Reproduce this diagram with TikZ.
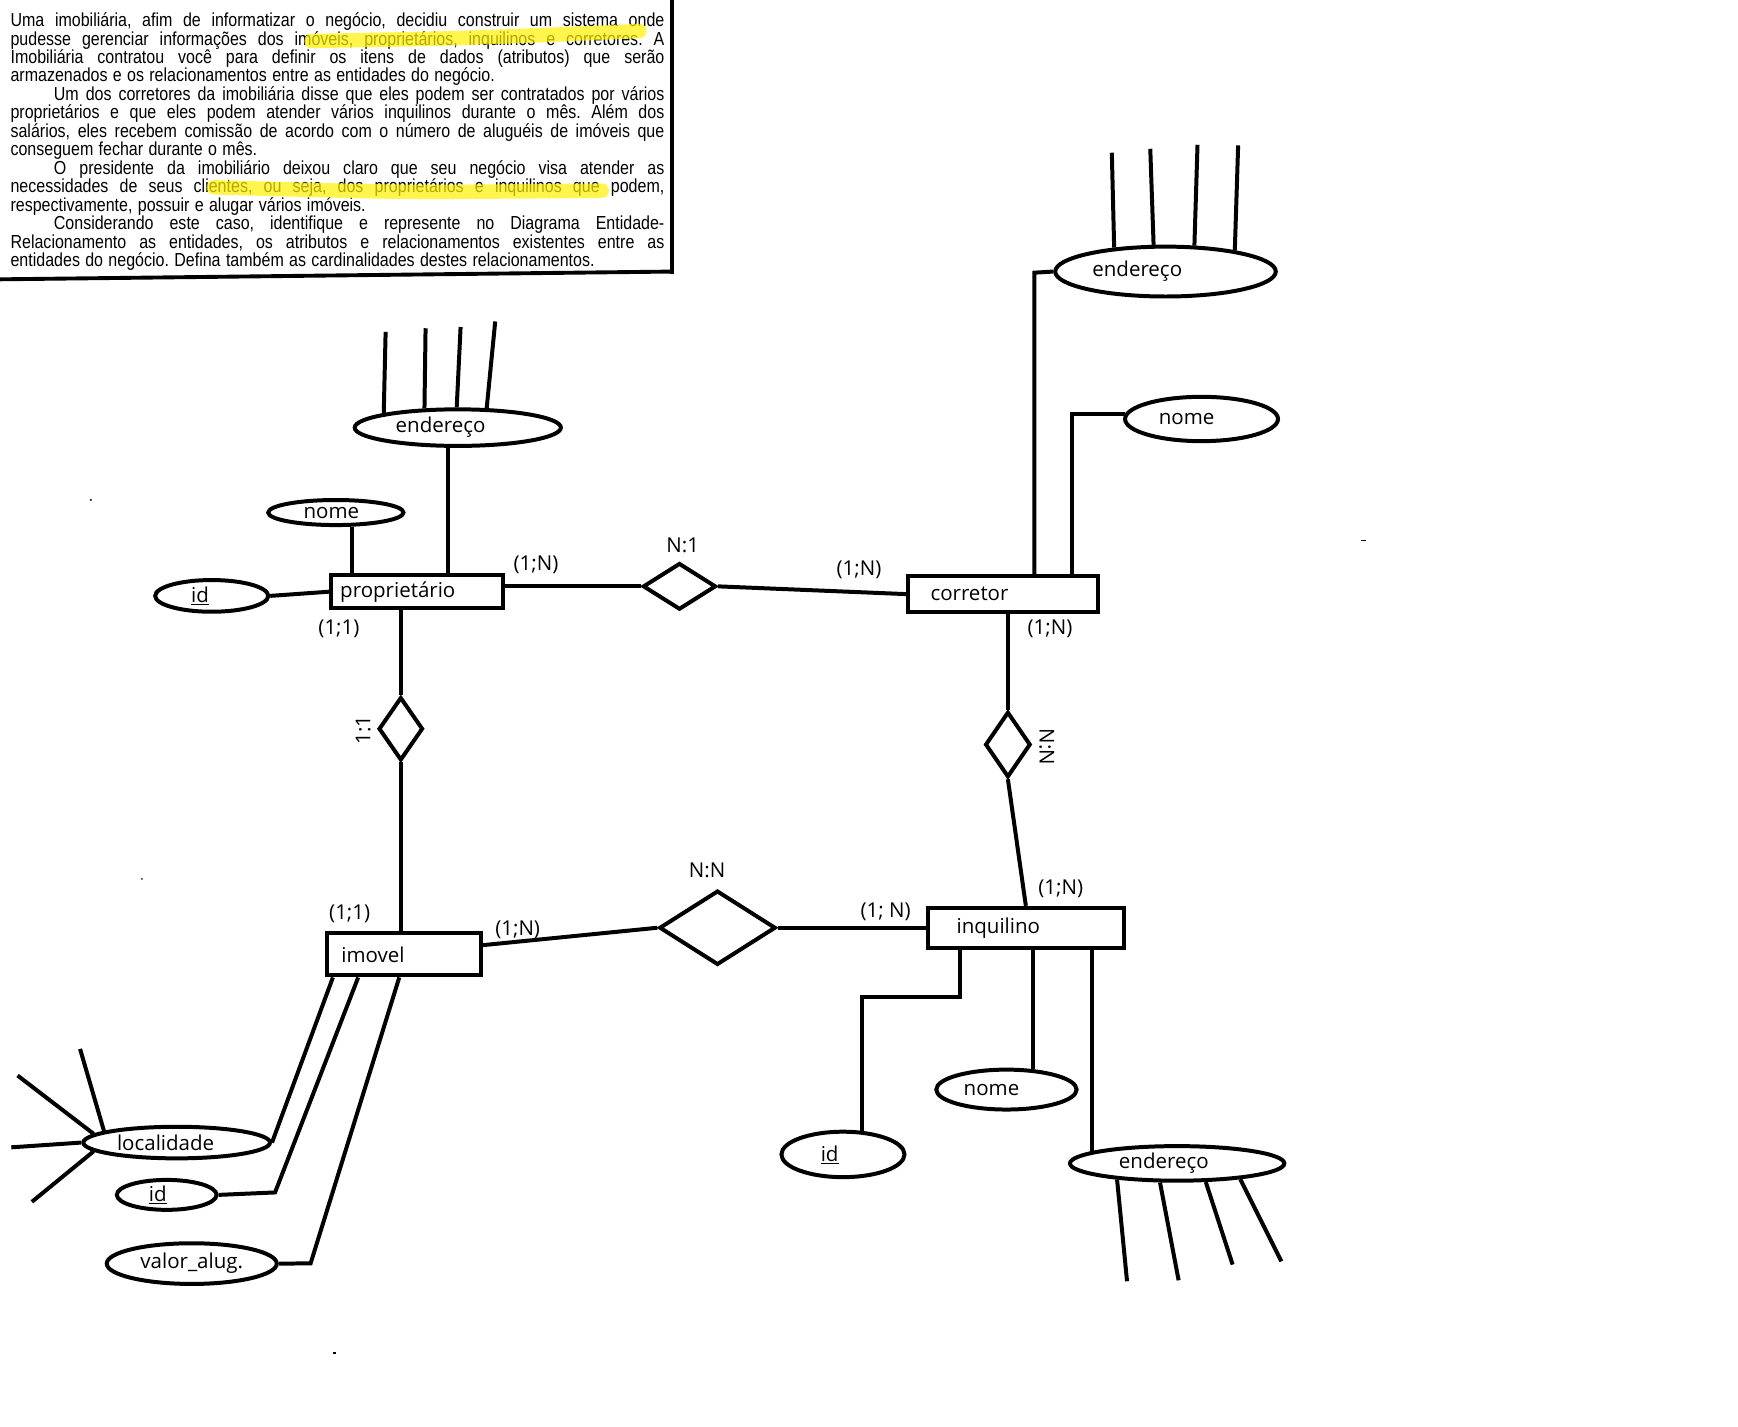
\documentclass[tikz,border=0pt]{standalone}
\usepackage{fontspec}
\setmainfont{Open Sans}
\newfontfamily\enunfont{Liberation Sans}
\usepackage{tikz}
\usetikzlibrary{positioning,calc,shapes.geometric}
\setlength{\parindent}{0pt}
\def\palavras#1 #2\fim{#1\ifx\relax#2\relax\else\hfill\palavras#2\fim\fi}
\newcommand{\linha}[1]{\leavevmode\hbox to 694pt{\palavras#1 \fim}}
\newcommand{\fonteenun}{\enunfont\fontsize{17}{16.66}\selectfont\frenchspacing}

\begin{document}
\begin{tikzpicture}[x=1pt,y=-1pt,line width=3.6pt,font=\fontsize{18.5}{22}\selectfont]
            \tikzstyle{entidade}=[draw, rectangle, inner ysep=0pt, align=left]
            \tikzstyle{atributo}=[draw, ellipse, inner sep=0pt]
            \tikzstyle{relacao}=[draw, diamond, inner sep=0pt]
            \tikzstyle{marca}=[yellow, opacity=0.7, line width=13pt, line cap=round]
            \fill[white] (0,0) rectangle (1568,1287);
            \useasboundingbox (0,0) rectangle (1568,1287);
            % enunciado
            \node[anchor=base west, inner sep=0pt, text width=694pt, font=\fonteenun,
            xscale=0.85, transform shape] (enunciado) at (8,24) {%
\linha{Uma imobiliária, afim de informatizar o negócio, decidiu construir um sistema onde}\\
\linha{pudesse gerenciar informações dos imóveis, proprietários, inquilinos e corretores. A}\\
\linha{Imobiliária contratou você para definir os itens de dados (atributos) que serão}\\
armazenados e os relacionamentos entre as entidades do negócio.\\
\linha{\hspace*{46pt}Um dos corretores da imobiliária disse que eles podem ser contratados por vários}\\
\linha{proprietários e que eles podem atender vários inquilinos durante o mês. Além dos}\\
\linha{salários, eles recebem comissão de acordo com o número de aluguéis de imóveis que}\\
conseguem fechar durante o mês.\\
\linha{\hspace*{46pt}O presidente da imobiliário deixou claro que seu negócio visa atender as}\\
\linha{necessidades de seus clientes, ou seja, dos proprietários e inquilinos que podem,}\\
respectivamente, possuir e alugar vários imóveis.\\
\linha{\hspace*{46pt}Considerando este caso, identifique e represente no Diagrama Entidade-}\\
\linha{Relacionamento as entidades, os atributos e relacionamentos existentes entre as}\\
entidades do negócio. Defina também as cardinalidades destes relacionamentos.%
            };
            \draw[marca] plot[smooth] coordinates {(281,37) (425,34) (577,28)};
            \draw[marca] plot[smooth] coordinates {(193,169) (365,173) (543,172)};
            \draw[line width=3.5pt] (606,0) -- (606,247);
            \draw[line width=3.5pt] (0,252) -- (606,245);
            % entidades
            \node[entidade, minimum width=154.7pt, minimum height=30pt, inner xsep=8pt, text width=138.7pt] (prop) at (376.3,533.8) {proprietário};
            \node[entidade, minimum width=171pt, minimum height=33pt, inner xsep=20pt, text width=131pt] (corr) at (905,536) {corretor};
            \node[entidade, minimum width=177pt, minimum height=36pt, inner xsep=26pt, text width=125pt] (inq) at (925.5,837) {inquilino};
            \node[entidade, minimum width=139pt, minimum height=38pt, inner xsep=13pt, text width=113pt] (imov) at (364.5,861) {imovel};
            % relacionamentos
            \node[relacao, minimum width=66pt, minimum height=42pt] (r1) at (613,529) {};
            \node[relacao, minimum width=40pt, minimum height=57pt] (r4) at (361.6,657.5) {};
            \node[relacao, minimum width=41pt, minimum height=59pt] (r2) at (909.3,671.7) {};
            \node[relacao, minimum width=105pt, minimum height=67pt] (r3) at (647.3,837) {};
            % atributos
            \node[atributo, minimum width=186pt, minimum height=33pt] (endP) at (413,385.8) {\hspace*{-31pt}endereço};
            \node[atributo, minimum width=122pt, minimum height=22.6pt] (nomeP) at (303,462.4) {\hspace*{-8pt}nome};
            \node[atributo, minimum width=102pt, minimum height=28.6pt] (idP) at (191,537.6) {\hspace*{-21pt}\underline{id}};
            \node[atributo, minimum width=199pt, minimum height=45pt] (endC) at (1051.5,245) {\hspace*{-51pt}\raisebox{3pt}{endereço}};
            \node[atributo, minimum width=138pt, minimum height=40pt] (nomeC) at (1084,378) {\hspace*{-27pt}nome};
            \node[atributo, minimum width=111pt, minimum height=41pt] (idI) at (760.5,1041.5) {\hspace*{-24pt}\underline{id}};
            \node[atributo, minimum width=126.6pt, minimum height=36pt] (nomeI) at (908,983) {\hspace*{-27pt}nome};
            \node[atributo, minimum width=193.4pt, minimum height=31.2pt] (endI) at (1062,1049.6) {\hspace*{-24pt}endereço};
            \node[atributo, minimum width=168.4pt, minimum height=28.5pt] (locM) at (159.4,1030.8) {\hspace*{-20pt}localidade};
            \node[atributo, minimum width=90pt, minimum height=27pt] (idM) at (150.4,1078) {\hspace*{-16pt}\underline{id}};
            \node[atributo, minimum width=153.4pt, minimum height=36.7pt] (valM) at (173,1140) {valor\_alug.};
            % cardinalidades
            \node (cPr1) at (483.6,509.8) {(1;N)};
            \node (cPr2) at (305.8,566.9) {(1;1)};
            \node (cR1) at (616,491.7) {N:1};
            \node (cCo1) at (775,514) {(1;N)};
            \node (cCo2) at (947.3,567) {(1;N)};
            \node[rotate=-90] (cR2) at (944.3,673.7) {N:N};
            \node (cIn1) at (957,801.5) {(1;N)};
            \node (cIn2) at (799,822.5) {(1; N)};
            \node (cR3) at (638,785) {N:N};
            \node (cIm1) at (467,839) {(1;N)};
            \node (cIm2) at (315.5,824) {(1;1)};
            \node[rotate=90] (cR4) at (327.6,658.6) {1:1};
            % ligacoes
            \path
            (idP.east) edge (prop.west)
            (nomeP.318) edge (nomeP.318 |- prop.north)
            (endP.245) edge (endP.245 |- prop.north)
            (r1.west) edge (r1.west -| prop.east)
            (r1.east) edge (corr.west)
            (r4.north) edge (r4.north |- prop.south)
            (r4.south) edge (r4.south |- imov.north)
            (r2.north) edge (r2.north |- corr.south)
            (r2.south) edge (inq.north)
            (inq.west) edge (r3.east)
            (r3.west) edge ($(imov.north east)!0.3!(imov.south east)$)
            (nomeI.38) edge (nomeI.38 |- inq.south)
            (endI.172) edge (endI.172 |- inq.south)
            ($(imov.south west)!0.05!(imov.south east)$) edge (locM.east);
            \draw (endC.west) -- ++(-17,1) coordinate (dobraE) -- (dobraE |- corr.north);
            \draw (nomeC.176) -- ++(-48,0) coordinate (dobraN) -- (dobraN |- corr.north);
            \draw ($(inq.south west)!0.17!(inq.south east)$) -- ++(0,43) -| (idI.51);
            \draw ($(imov.south west)!0.21!(imov.south east)$) -- ++(-75,194) -- (idM.east);
            \draw ($(imov.south west)!0.47!(imov.south east)$) -- ++(-80,258) -- (valM.east);
            \foreach \a/\dx/\dy in {169/1.7/-73.4, 150/1/-72.3, 93/3.5/-72.5, 34/7.7/-78.2}
              \draw (endP.\a) -- ++(\dx,\dy);
            \foreach \a/\dx/\dy in {155/-2.1/-85.6, 114/-3/-86.6, 42/2.8/-90.9, 17/3/-94.7}
              \draw (endC.\a) -- ++(\dx,\dy);
            \foreach \a/\dx/\dy in {195/9/91.8, 228/16.8/88.3, 327/24.2/74.5, 346/37.1/74.2}
              \draw (endI.\a) -- ++(\dx,\dy);
            \foreach \a/\dx/\dy in {171/-21.6/-74.1, 174/-68.6/-52.6, 180/-63.2/4.3, 186/-55.7/45.6}
              \draw (locM.\a) -- ++(\dx,\dy);
            % pontos soltos
            \fill (82,451) circle (1);
            \fill (1228,487) rectangle (1232,488.5);
            \fill (128,793) circle (0.8);
            \fill (300,1220) rectangle (303,1221.5);
        \end{tikzpicture}
\end{document}
